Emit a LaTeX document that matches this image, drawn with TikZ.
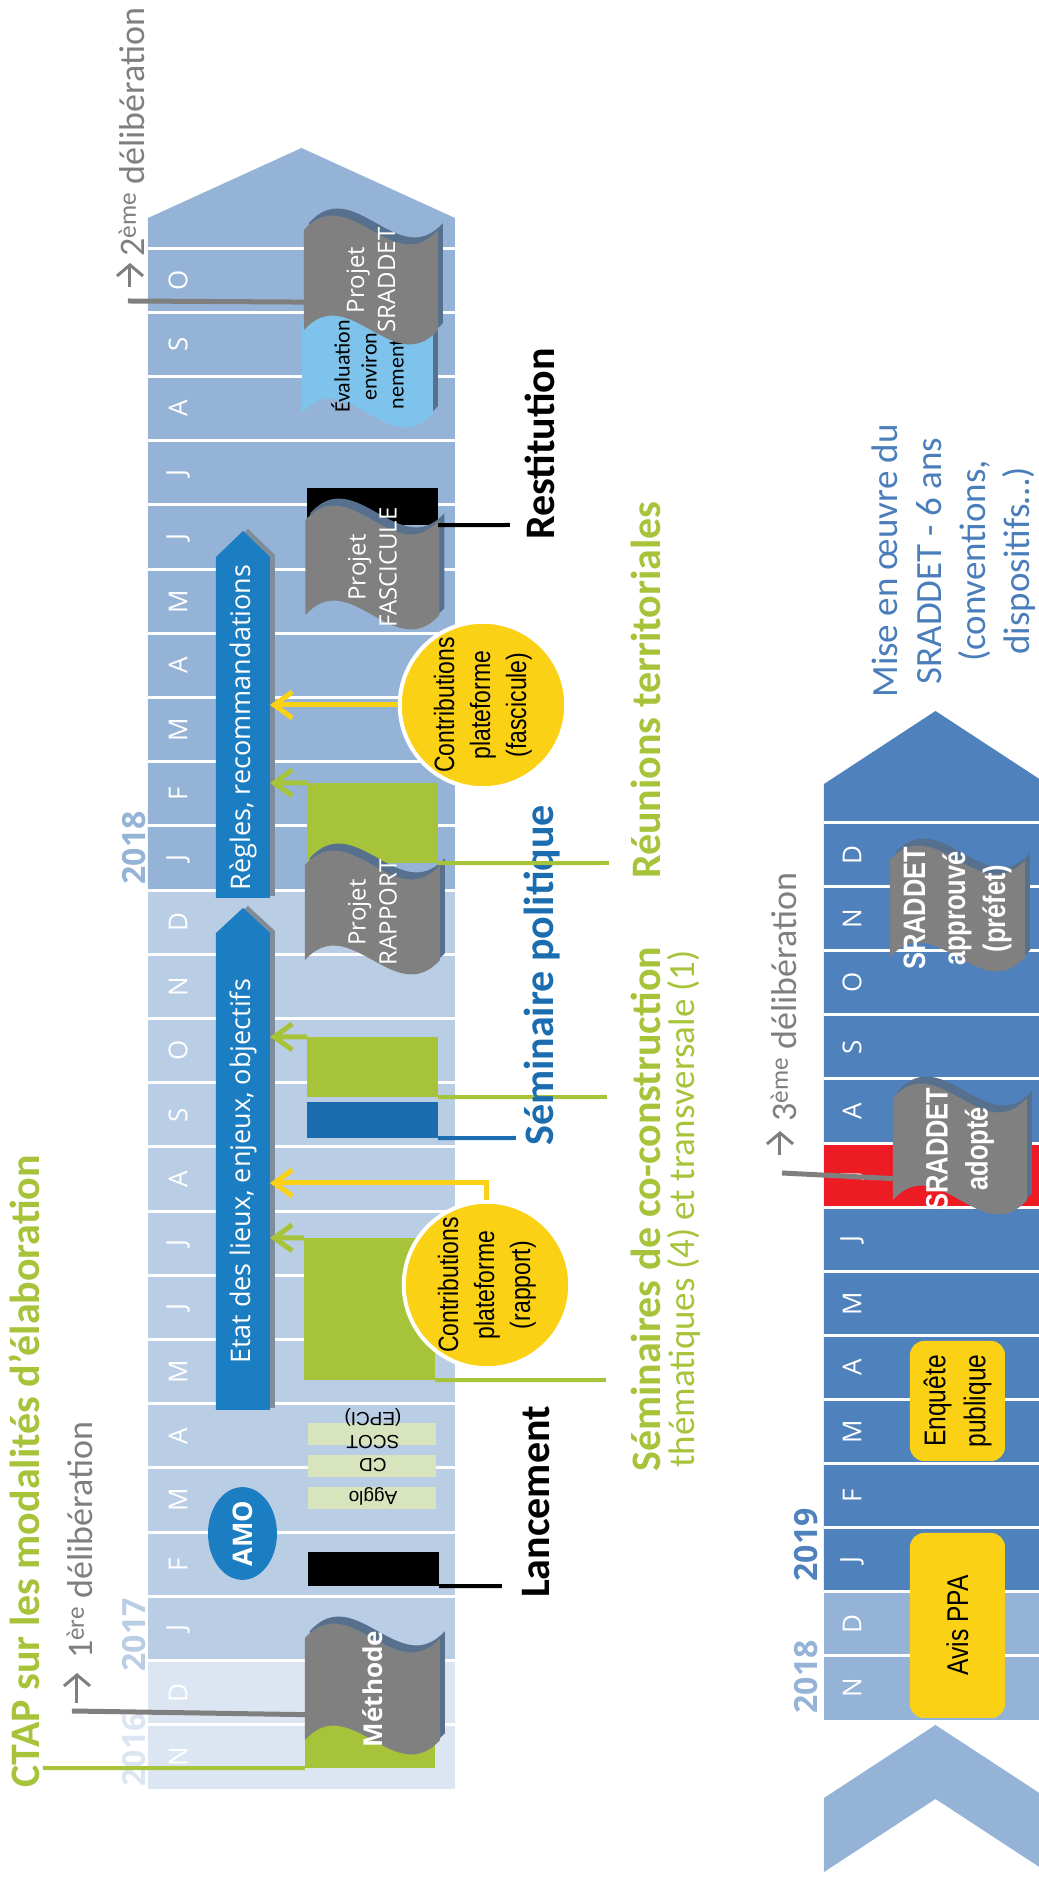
\documentclass[tikz,border=0pt]{standalone}
\usepackage{fontspec}
\setmainfont{Carlito}
\newfontfamily\opensans{Open Sans}
\newfontfamily\arialsans{Liberation Sans}
\newfontfamily\narrowsans[FakeStretch=0.82]{Liberation Sans}
\usetikzlibrary{arrows.meta,calc,shapes.geometric}

\definecolor{ctapgreen}{HTML}{A6C33A}
\definecolor{band16}{HTML}{DCE6F2}
\definecolor{band17}{HTML}{B9CDE5}
\definecolor{band18}{HTML}{95B3D7}
\definecolor{band19}{HTML}{4F81BD}
\definecolor{arrowblue}{HTML}{1C7EC2}
\definecolor{arrowshade}{HTML}{7F8C9A}
\definecolor{semiblue}{HTML}{1B6DB0}
\definecolor{ctapyellow}{HTML}{FBD115}
\definecolor{flaggray}{HTML}{808080}
\definecolor{flagshade}{HTML}{56708E}
\definecolor{evalblue}{HTML}{7DC3EB}
\definecolor{epcigreen}{HTML}{D7E4BD}
\definecolor{delibgray}{HTML}{7F7F7F}
\definecolor{julyred}{HTML}{ED1C24}
\definecolor{miseblue}{HTML}{4A7EBB}

\newcommand{\fs}[2]{\fontsize{#1pt}{#2pt}\selectfont}
\newcommand{\wavepath}[2]{(-#1/2,#2/2) .. controls (-#1/2+50,#2/6) and (-#1/2-50,-#2/6) .. (-#1/2,-#2/2) -- (#1/2,-#2/2) .. controls (#1/2-50,-#2/6) and (#1/2+50,#2/6) .. (#1/2,#2/2) -- cycle}
\newcommand{\flag}[7]{%
  \begin{scope}[shift={(#2)}]
    \fill[flagshade, shift={(7,-5)}] \wavepath{#3}{#4};
    \fill[#5] \wavepath{#3}{#4};
  \end{scope}
  \node[#6, minimum width=#3pt, minimum height=#4pt] (#1) at (#2) {#7};}

\tikzset{
  monthsep/.style={draw=white, line width=3pt},
  month/.style={text=white, font=\opensans\fs{26}{30}, inner sep=0pt},
  yearlbl/.style={anchor=base, inner sep=0pt, font=\opensans\bfseries\fs{32}{36}},
  slab/.style={inner sep=0pt, minimum height=131pt},
  epcibox/.style={fill=epcigreen, inner sep=0pt, minimum width=22pt, minimum height=128pt},
  epcitxt/.style={rotate=90, inner sep=0pt, font=\arialsans\fs{19}{22}},
  arrowtxt/.style={text=white, inner sep=0pt, font=\opensans\fs{27}{30}, minimum height=54pt},
  flagtxt/.style={text=white, inner sep=0pt, align=center, font=\opensans\fs{24}{31}},
  flagbold/.style={text=white, inner sep=0pt, align=center, font=\narrowsans\bfseries\fs{31}{40}},
  evaltxt/.style={text=black, inner sep=0pt, align=center, font=\fs{22}{27}},
  contrib/.style={circle, fill=ctapyellow, draw=white, line width=4pt, minimum size=164pt, inner sep=0pt, align=center, font=\narrowsans\fs{28}{36}},
  yellowbox/.style={fill=ctapyellow, rounded corners=14pt, minimum height=95pt, inner sep=0pt, align=center, font=\narrowsans\fs{30}{40}},
  biglbl/.style={anchor=base west, inner sep=0pt, font=\bfseries\fs{42}{50}},
  delib/.style={anchor=base west, inner sep=0pt, text=delibgray, font=\fs{36}{43}},
  delibarrow/.style={draw=delibgray, line width=3pt, -{Straight Barb[length=11pt,width=26pt]}},
  greenlink/.style={draw=ctapgreen, line width=4pt},
  blacklink/.style={draw=black, line width=4pt},
  bluelink/.style={draw=semiblue, line width=4pt},
  graylink/.style={draw=delibgray, line width=5pt},
  greenarrow/.style={draw=ctapgreen, line width=5pt, -{Straight Barb[length=18pt,width=26pt]}},
  yellowarrow/.style={draw=ctapyellow, line width=5pt, -{Straight Barb[length=18pt,width=26pt]}}
}

\begin{document}
\begin{tikzpicture}[rotate=90, transform shape, x=1pt, y=1pt]
\useasboundingbox (0,0) rectangle (1883,1039);
\clip (0,0) rectangle (1883,1039);

% timeline 2016-2018
\fill[band16] (94,584) rectangle (222.4,891);
\fill[band17] (222.4,584) rectangle (992.8,891);
\fill[band18] (992.8,584) -- (1665,584) -- (1735,737.5) -- (1665,891) -- (992.8,891) -- cycle;
\foreach \k in {1,...,24}
  \draw[monthsep] ({94+64.2*\k},584) -- ({94+64.2*\k},891);
\foreach \m [count=\k from 0] in {N,D,J,F,M,A,M,J,J,A,S,O,N,D,J,F,M,A,M,J,J,A,S,O}
  \node[month] (top\k) at ({94+64.2*(\k+0.5)},861) {\m};
\node[yearlbl, text=band16] (y2016) at (133,893) {2016};
\node[yearlbl, text=band17] (y2017) at (248,893) {2017};
\node[yearlbl, text=band18] (y2018) at (1035,893) {2018};

% timeline 2018-2019
\fill[band18] (11,215) -- (85,215) -- (158,103.5) -- (85,-8) -- (11,-8) -- (84,103.5) -- cycle;
\fill[band18] (163,-8) rectangle (291.2,215);
\fill[band19] (291.2,-8) -- (1099,-8) -- (1172,103.5) -- (1099,215) -- (291.2,215) -- cycle;
\fill[julyred] (675.8,-8) rectangle (739.9,215);
\foreach \k in {1,...,14}
  \draw[monthsep] ({163+64.1*\k},-8) -- ({163+64.1*\k},215);
\foreach \m [count=\k from 0] in {N,D,J,F,M,A,M,J,J,A,S,O,N,D}
  \node[month] (bot\k) at ({163+64.1*(\k+0.5)},187) {\m};
\node[yearlbl, text=band18] (z2018) at (206,221) {2018};
\node[yearlbl, text=band19] (z2019) at (338,221) {2019};

% blocks on the first timeline
\node[slab, fill=ctapgreen, minimum width=68pt, minimum height=130pt] (nov16) at (149,669) {};
\node[slab, fill=black, minimum width=34pt] (lancbar) at (314,665.5) {};
\node[ellipse, fill=arrowblue, minimum width=87pt, minimum height=69pt, inner sep=0pt,
  text=white, font=\opensans\bfseries\fs{27}{30}] (amo) at (349.5,796.5) {AMO};
\node[epcibox] (aggbox) at (385,667) {};
\node[epcibox] (cdbox) at (416.5,667) {};
\node[epcibox] (scotbox) at (449,667) {};
\node[epcitxt] (agglo) at (387,666) {Agglo};
\node[epcitxt] (cd) at (418,666) {CD};
\node[epcitxt] (scot) at (441,666) {SCOT};
\node[epcitxt] (epci) at (466,666) {(EPCI)};

\fill[arrowshade] (475,764) -- (952,764) -- (977,791) -- (952,818) -- (475,818) -- cycle;
\fill[arrowblue] (473,769) -- (950,769) -- (975,796) -- (950,823) -- (473,823) -- cycle;
\node[arrowtxt, minimum width=477pt] (etat) at (711.5,796) {Etat des lieux, enjeux, objectifs};
\fill[arrowshade] (987,764) -- (1328,764) -- (1354,791) -- (1328,818) -- (987,818) -- cycle;
\fill[arrowblue] (985,769) -- (1326,769) -- (1352,796) -- (1326,823) -- (985,823) -- cycle;
\node[arrowtxt, minimum width=341pt] (regles) at (1155.5,796) {Règles, recommandations};

\node[slab, fill=ctapgreen, minimum width=142pt] (semi1) at (574,669.5) {};
\node[slab, fill=semiblue, minimum width=36pt] (polbar) at (763,666.5) {};
\node[slab, fill=ctapgreen, minimum width=60pt] (semi2) at (816,666.5) {};
\node[slab, fill=ctapgreen, minimum width=80pt] (reun) at (1060,666.5) {};
\node[slab, fill=black, minimum width=37pt] (restbar) at (1376.5,666.5) {};

\flag{methode}{194,666.5}{102}{135}{flaggray}{flagtxt, font=\opensans\bfseries\fs{26}{30}}{Méthode}
\flag{rapport}{970.5,666.5}{95}{135}{flaggray}{flagtxt}{Projet\\RAPPORT}
\flag{fascicule}{1315.5,666.5}{95}{134}{flaggray}{flagtxt}{Projet\\FASCICULE}
\flag{evaluation}{1516.5,671.5}{93}{131}{evalblue}{evaltxt}{Évaluation\\environ\\nemental}
\flag{sradflag}{1603,668}{100}{134}{flaggray}{flagtxt}{Projet\\SRADDET}

\node[contrib] (contribrap) at (598,552) {Contributions\\plateforme\\(rapport)};
\node[contrib] (contribfasc) at (1178,556) {Contributions\\plateforme\\(fascicule)};

% arrows into the blue bands
\coordinate (semi1tip) at (645,769);
\coordinate (semi2tip) at (846,769);
\coordinate (reuntip) at (1100,769);
\coordinate (rapbend) at (700,552);
\coordinate (raptip) at (700,769);
\coordinate (fasctip) at (1178,769);
\draw[greenarrow] (semi1.north east) -- (semi1tip);
\draw[greenarrow] (semi2.north east) -- (semi2tip);
\draw[greenarrow] (reun.north east) -- (reuntip);
\draw[yellowarrow] (contribrap.east) -- (rapbend) -- (raptip);
\draw[yellowarrow] (contribfasc.north) -- (fasctip);

% labels below the first timeline
\node[biglbl, text=ctapgreen] (title) at (95,999) {CTAP sur les modalités d’élaboration};
\coordinate (titlefoot) at (115,996);
\draw[greenlink] (nov16.north west) -- (titlefoot);
\coordinate (d1corner) at (172,967);
\draw[graylink] ($(methode.north west)!0.28!(methode.north east)$) -- (d1corner);
\coordinate (d1foot) at (180,962);
\draw[delibarrow] (d1foot) -- ++(30,0);
\node[delib] (delib1) at (224,946) {1\textsuperscript{ère} délibération};

\node[biglbl] (lanc) at (285,489) {Lancement};
\coordinate (lancend) at (297,537);
\draw[blacklink] (lancbar.south west) -- (lancend);

\node[biglbl, text=ctapgreen] (semilbl) at (411,378) {Séminaires de co-construction};
\node[anchor=base west, inner sep=0pt, text=ctapgreen, font=\fs{37}{44}] (semisub) at (415,344) {thématiques (4) et transversale (1)};
\coordinate (semi1end) at (503,433);
\coordinate (semi2end) at (786,432);
\draw[greenlink] (semi1.south west) -- (semi1end);
\draw[greenlink] (semi2.south west) -- (semi2end);

\node[biglbl, text=semiblue] (pollbl) at (737,485) {Séminaire politique};
\coordinate (polend) at (745,523);
\draw[bluelink] (polbar.south west) -- (polend);

\node[biglbl, text=ctapgreen] (reunlbl) at (1004,378) {Réunions territoriales};
\coordinate (reunend) at (1020,430);
\draw[greenlink] (reun.south west) -- (reunend);

\node[biglbl] (restlbl) at (1343,484) {Restitution};
\coordinate (restend) at (1358,529);
\draw[blacklink] (restbar.south west) -- (restend);

\coordinate (d2corner) at (1582,911);
\draw[graylink] ($(sradflag.north west)!0.29!(sradflag.north east)$) -- (d2corner);
\coordinate (d2foot) at (1596,909);
\draw[delibarrow] (d2foot) -- ++(24,0);
\node[delib] (delib2) at (1626,894) {2\textsuperscript{ème} délibération};

% second timeline
\node[yellowbox, minimum width=185pt] (avis) at (257.5,81.5) {Avis PPA};
\node[yellowbox, minimum width=120pt] (enquete) at (482,81.5) {Enquête\\publique};
\flag{adopte}{734,79}{102}{134}{flaggray}{flagbold}{SRADDET\\adopté}
\flag{approuve}{974.5,81.5}{97}{135}{flaggray}{flagbold}{SRADDET\\approuvé\\(préfet)}
\coordinate (d3corner) at (710,257);
\draw[graylink] ($(adopte.north west)!0.26!(adopte.north east)$) -- (d3corner);
\coordinate (d3foot) at (728,259);
\draw[delibarrow] (d3foot) -- ++(24,0);
\node[delib] (delib3) at (761,242) {3\textsuperscript{ème} délibération};
\node[inner sep=0pt, align=center, text=miseblue, font=\fs{37}{44}] (mise) at (1322,85)
  {Mise en œuvre du\\SRADDET - 6 ans\\(conventions,\\dispositifs…)};
\end{tikzpicture}
\end{document}
